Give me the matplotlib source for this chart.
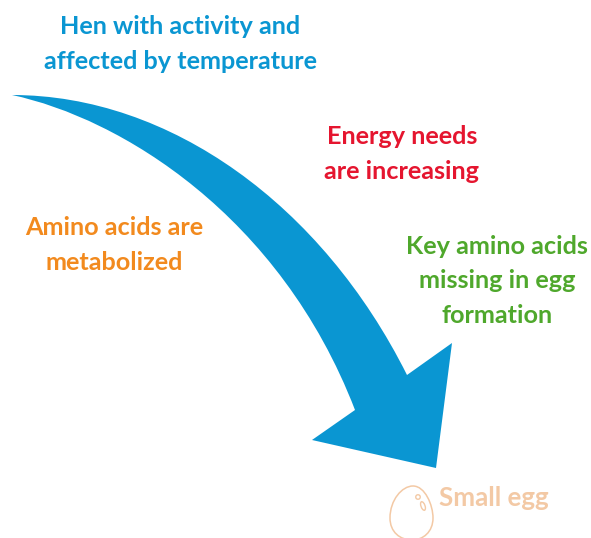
import matplotlib
matplotlib.use("Agg")
import matplotlib.pyplot as plt
from matplotlib.patches import Ellipse, PathPatch
from matplotlib.path import Path

W, H = 591, 538
FONT = ["Lato", "DejaVu Sans"]

labels = ["Hen with activity and\naffected by temperature", "Energy needs\nare increasing",
          "Amino acids are\nmetabolized", "Key amino acids\nmissing in egg\nformation"]
label_xy = [(180, 44), (402, 154), (114, 245), (497, 281)]
label_colors = ["#0a96d2", "#e5152f", "#f28a1e", "#4fa82c"]
egg_label = "Small egg"
egg_color = "#f3c9a5"

arrow_color = "#0a96d2"

fig = plt.figure(figsize=(W / 100, H / 100), dpi=100)
ax = fig.add_axes([0, 0, 1, 1])
ax.set_xlim(0, W)
ax.set_ylim(H, 0)
ax.axis("off")

verts = [(12, 95), (170, 95), (322, 205), (407, 375), (452, 343), (436, 468), (312, 440),
         (355, 410), (280, 215), (120, 118), (12, 95)]
codes = [Path.MOVETO, Path.CURVE4, Path.CURVE4, Path.CURVE4, Path.LINETO, Path.LINETO, Path.LINETO,
         Path.LINETO, Path.CURVE4, Path.CURVE4, Path.CURVE4]
ax.add_patch(PathPatch(Path(verts, codes), fc=arrow_color, ec="none"))

for txt, (x, y), c in zip(labels, label_xy, label_colors):
    ax.text(x, y, txt, color=c, fontsize=18.2, fontweight="bold", family=FONT,
            ha="center", va="center", linespacing=1.6)

# egg outline, bottom runs off the canvas
egg = [(390, 518), (390, 500), (402, 486), (413, 486), (425, 486), (433, 505), (433, 518),
       (433, 532), (423, 540), (412, 540), (400, 540), (390, 532), (390, 518)]
egg_codes = [Path.MOVETO] + [Path.CURVE4] * 12
ax.add_patch(PathPatch(Path(egg, egg_codes), fc="none", ec=egg_color, lw=1.1))
ax.add_patch(Ellipse((418, 497), 4.5, 4.5, fc="none", ec=egg_color, lw=1))
ax.add_patch(Ellipse((423, 506), 4, 9, angle=-20, fc="none", ec=egg_color, lw=1))
ax.text(494, 498, egg_label, color=egg_color, fontsize=18.6, fontweight="bold", family=FONT,
        ha="center", va="center")

fig.savefig("out.png", dpi=100)
